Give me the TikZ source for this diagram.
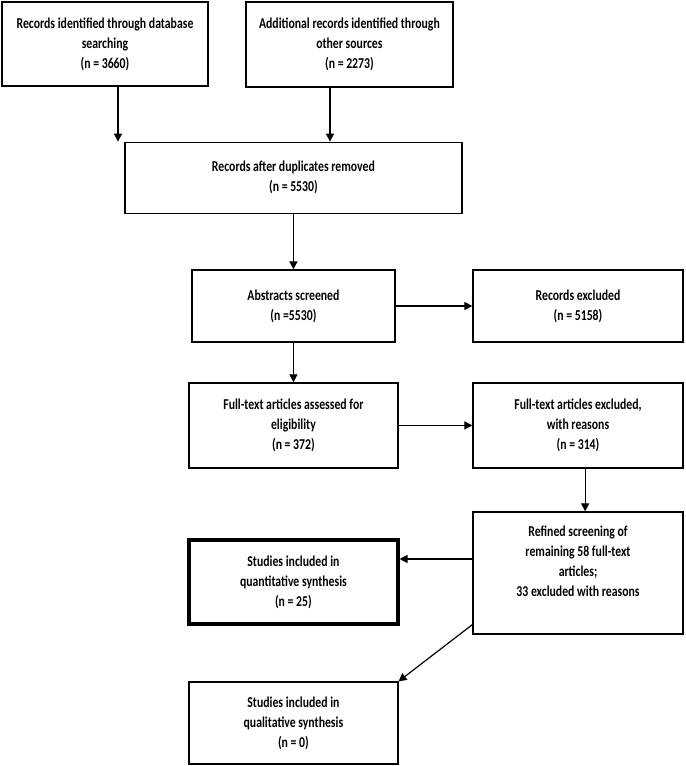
\documentclass[tikz,border=0pt]{standalone}
\usepackage{fontspec}
\setmainfont{Carlito}[FakeStretch=0.78]
\usetikzlibrary{arrows.meta, positioning}
\tikzset{
    stage/.style={
        rectangle, draw=black, line width=1.2pt,
        fill=white, align=center, inner sep=2pt,
        font=\fontsize{15}{20}\selectfont\bfseries
    },
    final/.style={stage, line width=3.2pt},
    boxtext/.style={align=center, inner sep=0pt, font=\fontsize{15}{20}\selectfont\bfseries},
    flow/.style={draw=black, line width=1.2pt, -{Triangle[length=8pt, width=8pt]}}
}

\begin{document}
\begin{tikzpicture}

\useasboundingbox (0,0) rectangle (23.975,26.81);

% Identification
\node[stage, minimum width=7.21cm, minimum height=2.94cm] (dbase) at (3.675,25.27)
    {Records identified through database\\searching\\(n = 3660)};
\node[stage, minimum width=7.245cm, minimum height=2.975cm] (other) at (12.23,25.25)
    {Additional records identified through\\other sources\\(n = 2273)};

% Screening
\node[stage, minimum width=11.795cm, minimum height=2.485cm] (dup) at (10.27,20.59)
    {Records after duplicates removed\\(n = 5530)};
\node[stage, minimum width=7.105cm, minimum height=2.52cm] (abst) at (10.27,16.1)
    {Abstracts screened\\(n =5530)};
\node[stage, minimum width=7.35cm, minimum height=2.52cm] (recexc) at (20.23,16.1)
    {Records excluded\\(n = 5158)};

% Eligibility
\node[stage, minimum width=7.315cm, minimum height=2.975cm] (full) at (10.27,11.92)
    {Full-text articles assessed for\\eligibility\\(n = 372)};
\node[stage, minimum width=7.35cm, minimum height=2.975cm] (fullexc) at (20.23,11.92)
    {Full-text articles excluded,\\with reasons\\(n = 314)};
\node[stage, minimum width=7.35cm, minimum height=4.27cm] (refine) at (20.23,6.755) {};
\node[boxtext, below=0.49cm of refine.north] (refinetxt)
    {Refined screening of\\remaining 58 full-text\\articles;\\33 excluded with reasons};

% Included
\node[final, minimum width=7.315cm, minimum height=2.94cm] (quant) at (10.27,6.44)
    {Studies included in\\quantitative synthesis\\(n = 25)};
\node[stage, minimum width=7.315cm, minimum height=2.87cm] (qual) at (10.27,1.505)
    {Studies included in\\qualitative synthesis\\(n = 0)};

% Connections
\draw[flow] ([xshift=0.455cm]dbase.south) -- ([xshift=0.455cm]dbase.south |- dup.north);
\draw[flow] ([xshift=-0.68cm]other.south) -- ([xshift=-0.68cm]other.south |- dup.north);
\draw[flow] (dup) -- (abst);
\draw[flow] (abst) -- (recexc);
\draw[flow] (abst) -- (full);
\draw[flow] (full) -- (fullexc);
\draw[flow] ([xshift=0.25cm]fullexc.south) -- ([xshift=0.25cm]fullexc.south |- refine.north);
\draw[flow] ([yshift=0.49cm]refine.west) -- ([yshift=0.49cm]refine.west -| quant.east);
\draw[flow] ([yshift=0.35cm]refine.south west) -- (qual.north east);

\end{tikzpicture}
\end{document}
